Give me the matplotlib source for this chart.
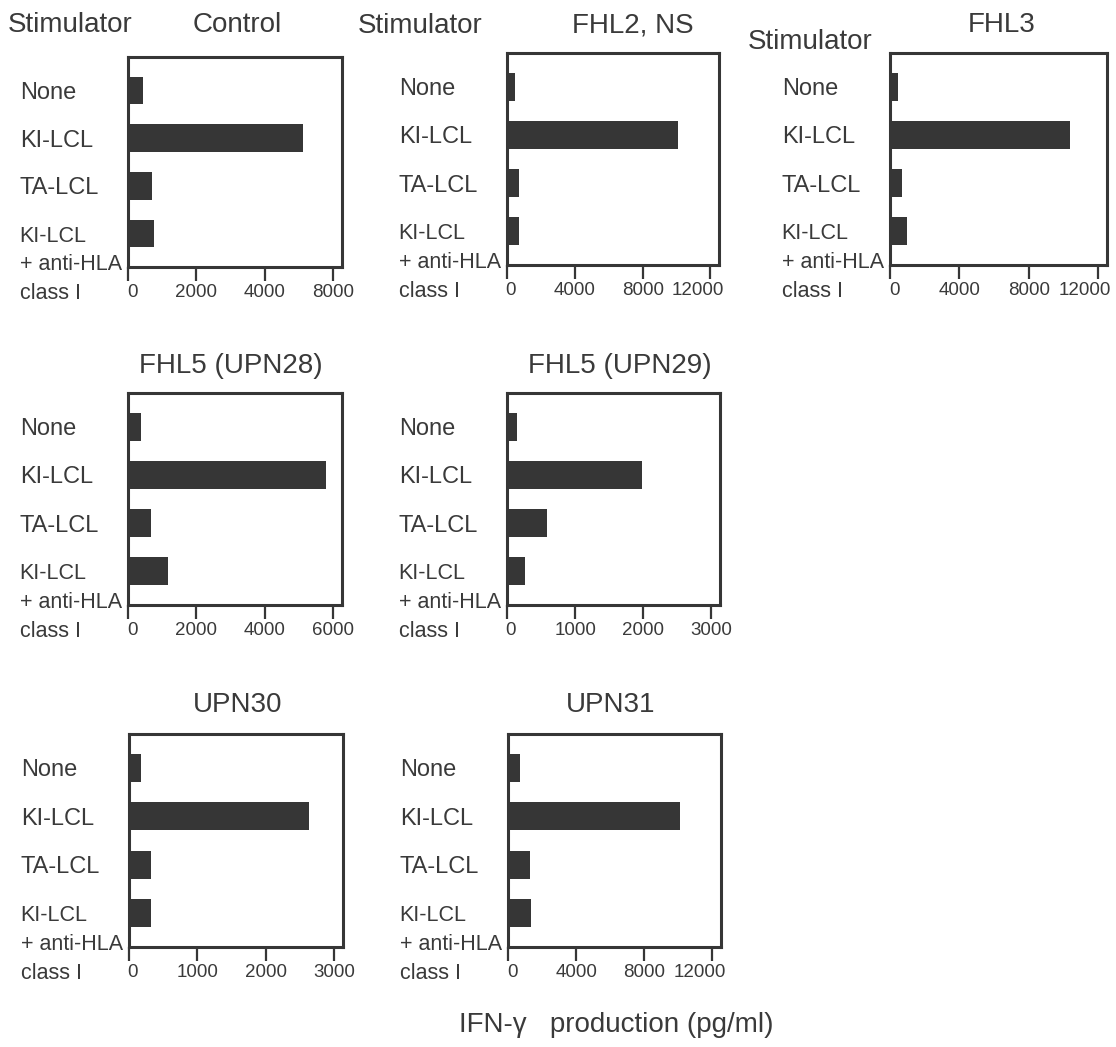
import matplotlib
matplotlib.use('Agg')
import matplotlib.pyplot as plt
from matplotlib.transforms import ScaledTranslation

plt.rcParams['font.family'] = ['Liberation Sans', 'DejaVu Sans']

# stimulators, top to bottom
estimulos = ['None', 'KI-LCL', 'TA-LCL', 'KI-LCL\n+ anti-HLA\nclass I']

# panel titles
titulos = ['Control', 'FHL2, NS', 'FHL3', 'FHL5 (UPN28)', 'FHL5 (UPN29)', 'UPN30', 'UPN31']

# IFN-gamma production (pg/ml), same order as estimulos
control = [450, 5100, 700, 760]
fhl2_ns = [500, 10100, 700, 700]
fhl3 = [450, 10350, 680, 1000]
upn28 = [380, 5780, 660, 1180]
upn29 = [150, 1980, 580, 260]
upn30 = [180, 2630, 320, 320]
upn31 = [710, 10100, 1300, 1340]

# x ticks of each panel (the control panel's last tick is printed as 8000)
ticks_control = [0, 2000, 4000, 6000]
etiquetas_control = ['0', '2000', '4000', '8000']
ticks_12000 = [0, 4000, 8000, 12000]
ticks_6000 = [0, 2000, 4000, 6000]
ticks_3000 = [0, 1000, 2000, 3000]

valores = [control, fhl2_ns, fhl3, upn28, upn29, upn30, upn31]
ticks = [ticks_control, ticks_12000, ticks_12000, ticks_6000, ticks_3000, ticks_3000, ticks_12000]
etiquetas = [etiquetas_control] + [[str(t) for t in tk] for tk in ticks[1:]]

W, H = 1116, 1047
gris = '#363636'
texto = '#3a3a3a'

# axes boxes in pixels: left, top, right, bottom
cajas = [
    (128, 57, 342, 267),
    (507, 53, 719, 265),
    (890, 53, 1107, 265),
    (128, 393, 342, 605),
    (507, 393, 720, 605),
    (129, 734, 343, 947),
    (508, 734, 721, 947),
]
# title centres in pixels
pos_titulos = [(237, 25), (633, 25), (1002, 25), (231, 366), (620, 366), (238, 705), (611, 705)]

fig = plt.figure(figsize=(W / 100, H / 100), dpi=100)


def frac(x, y):
    return x / W, 1 - y / H


for i in range(len(valores)):
    l, t, r, b = cajas[i]
    ax = fig.add_axes([l / W, 1 - b / H, (r - l) / W, (b - t) / H])
    y = list(range(len(estimulos)))
    ax.barh(y, valores[i], height=0.58, color=gris, edgecolor='none')
    ax.set_ylim(3.7, -0.7)
    ax.set_xlim(0, ticks[i][-1] * 1.042)
    ax.set_xticks(ticks[i])
    ax.set_xticklabels(etiquetas[i], fontsize=13.5, color=texto)
    ax.set_yticks([])
    ax.tick_params(axis='x', direction='out', length=10, width=1.6, color=gris, pad=2)
    for s in ax.spines.values():
        s.set_linewidth(2.2)
        s.set_color(gris)

    # nudge end labels like the original: "0" a bit right, "12000" a bit left
    for tick in ax.xaxis.get_major_ticks():
        lbl = tick.label1
        if lbl.get_text() == '0':
            dx = 4
        elif lbl.get_text() == '12000':
            dx = -13
        else:
            dx = 0
        if dx:
            lbl.set_transform(lbl.get_transform() + ScaledTranslation(dx / 100, 0, fig.dpi_scale_trans))

    # stimulator labels, left aligned
    for j, nombre in enumerate(estimulos):
        lineas = nombre.split('\n')
        fs = 17 if len(lineas) == 1 else 15.5
        for k, linea in enumerate(lineas):
            ax.annotate(linea, xy=(0, j), xycoords=('axes fraction', 'data'),
                        xytext=(-78, -k * 20.8), textcoords='offset points',
                        ha='left', va='center_baseline', fontsize=fs, color=texto)

    tx, ty = pos_titulos[i]
    fig.text(*frac(tx, ty), titulos[i], ha='center', va='center', fontsize=20, color=texto)

# "Stimulator" headers on the first row
for x, y in [(8, 25), (358, 26), (748, 42)]:
    fig.text(*frac(x, y), 'Stimulator', ha='left', va='center', fontsize=20, color=texto)

fig.text(*frac(616, 1025), 'IFN-γ   production (pg/ml)', ha='center', va='center',
         fontsize=20, color=texto)

plt.savefig('out.png', dpi=100)
